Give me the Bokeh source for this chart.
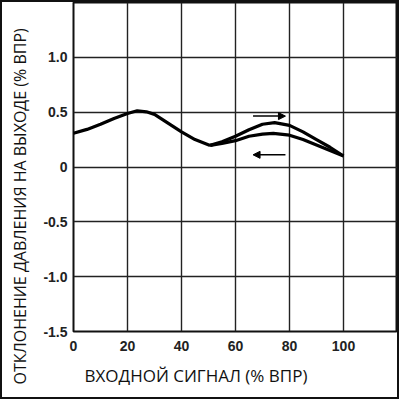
from bokeh.plotting import figure
from bokeh.layouts import row
from bokeh.models import FixedTicker, Title, Arrow, NormalHead
from bokeh.embed import file_html
from bokeh.resources import INLINE

# common part of the curve (both directions)
x_common = [0, 5, 10, 15, 20, 23.6, 27, 30, 35, 40, 45, 50.6]
y_common = [0.307, 0.343, 0.39, 0.443, 0.488, 0.513, 0.503, 0.48, 0.40, 0.32, 0.25, 0.197]

# rising signal (upper branch)
x_up = [50.6, 55, 60, 65, 70, 74.5, 80, 85, 90, 95, 100]
y_up = [0.197, 0.23, 0.28, 0.34, 0.39, 0.404, 0.38, 0.32, 0.25, 0.18, 0.10]

# falling signal (lower branch)
x_down = [50.6, 55, 60, 65, 70, 74, 80, 85, 90, 95, 100]
y_down = [0.197, 0.215, 0.24, 0.28, 0.30, 0.307, 0.29, 0.25, 0.20, 0.15, 0.10]

x_ticks = [0, 20, 40, 60, 80, 100]
y_ticks = [-1.5, -1.0, -0.5, 0, 0.5, 1.0]
y_tick_labels = ["-1.5", "-1.0", "-0.5", "0", "0.5", "1.0"]

x_title = "ВХОДНОЙ СИГНАЛ (% ВПР)"
y_title = "ОТКЛОНЕНИЕ ДАВЛЕНИЯ НА ВЫХОДЕ (% ВПР)"

# narrow strip holding the vertical axis title
side = figure(width=38, height=395, x_range=(0, 1), y_range=(0, 1),
              x_axis_type=None, y_axis_type=None,
              output_backend="svg", toolbar_location=None,
              min_border_left=0, min_border_right=0,
              min_border_top=0, min_border_bottom=66)
side.outline_line_color = None
side.grid.visible = False
side.add_layout(Title(text=y_title, align="left", offset=-53, standoff=10,
                      vertical_align="middle",
                      text_font="Open Sans", text_font_style="normal",
                      text_font_size="16px", text_color="#111"), "left")

p = figure(width=357, height=395, x_range=(0, 120), y_range=(-1.5, 1.5),
           output_backend="svg", toolbar_location=None,
           min_border_left=31, min_border_right=0,
           min_border_top=0, min_border_bottom=64)

p.outline_line_color = "#111"
p.outline_line_width = 2

p.xaxis.ticker = FixedTicker(ticks=x_ticks)
p.yaxis.ticker = FixedTicker(ticks=y_ticks)
p.yaxis.major_label_overrides = {t: s for t, s in zip(y_ticks, y_tick_labels)}

for ax in (p.xaxis[0], p.yaxis[0]):
    ax.axis_label = None
    ax.axis_label_standoff = 0
    ax.axis_line_color = None
    ax.major_tick_line_color = None
    ax.minor_tick_line_color = None
    ax.major_tick_out = 0
    ax.major_tick_in = 0
    ax.major_label_text_font = "Liberation Sans"
    ax.major_label_text_font_style = "bold"
    ax.major_label_text_font_size = "14px"
    ax.major_label_text_color = "#222"
p.xaxis.major_label_standoff = 9
p.yaxis.major_label_standoff = 6

p.grid.grid_line_color = "#222"
p.grid.grid_line_width = 1.4
p.grid.grid_line_alpha = 1.0

p.line(x_common, y_common, line_color="black", line_width=3.2)
p.line(x_up, y_up, line_color="black", line_width=3.2)
p.line(x_down, y_down, line_color="black", line_width=3.2)

p.add_layout(Arrow(x_start=66.5, y_start=0.464, x_end=78.5, y_end=0.464,
                   line_color="black", line_width=1.5,
                   end=NormalHead(size=7, fill_color="black", line_color="black")))
p.add_layout(Arrow(x_start=78.5, y_start=0.111, x_end=66.5, y_end=0.111,
                   line_color="black", line_width=1.5,
                   end=NormalHead(size=7, fill_color="black", line_color="black")))

p.add_layout(Title(text=x_title, align="left", offset=11, standoff=16,
                   text_font="Open Sans", text_font_style="normal",
                   text_font_size="17px", text_color="#111"), "below")

layout = row(side, p, spacing=0, styles={"border": "2px solid #111"})

open("out.html", "w").write(file_html(layout, INLINE))
